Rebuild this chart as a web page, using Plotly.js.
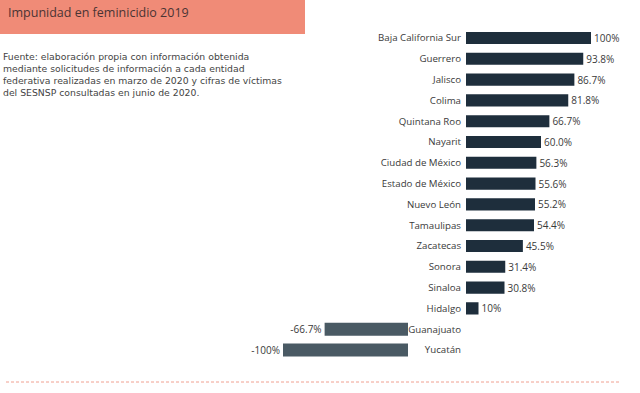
<!DOCTYPE html>
<html>
<head>
<meta charset="utf-8">
<script src="https://cdn.plot.ly/plotly-3.0.1.min.js"></script>
<style>html,body{margin:0;padding:0;background:#fff;}#chart{width:640px;height:393px;}</style>
</head>
<body>
<div id="chart"></div>
<script>
// Data
var allStates = ["Baja California Sur","Guerrero","Jalisco","Colima","Quintana Roo","Nayarit","Ciudad de México","Estado de México","Nuevo León","Tamaulipas","Zacatecas","Sonora","Sinaloa","Hidalgo","Guanajuato","Yucatán"];
var posStates = ["Baja California Sur","Guerrero","Jalisco","Colima","Quintana Roo","Nayarit","Ciudad de México","Estado de México","Nuevo León","Tamaulipas","Zacatecas","Sonora","Sinaloa","Hidalgo"];
var posValues = [100, 93.8, 86.7, 81.8, 66.7, 60.0, 56.3, 55.6, 55.2, 54.4, 45.5, 31.4, 30.8, 10];
var posLabels = ["100%","93.8%","86.7%","81.8%","66.7%","60.0%","56.3%","55.6%","55.2%","54.4%","45.5%","31.4%","30.8%","10%"];
var negStates = ["Guanajuato","Yucatán"];
var negValues = [-66.7, -100];
var negLabels = ["-66.7%","-100%"];
var subtitle = "Impunidad en feminicidio 2019";
var sourceLines = [
  "Fuente: elaboración propia con información obtenida",
  "mediante solicitudes de información a cada entidad",
  "federativa realizadas en marzo de 2020 y cifras de víctimas",
  "del SESNSP consultadas en junio de 2020."
];

var W = 640, H = 393;
function px(x){ return x / W; }
function py(y){ return 1 - y / H; }

var FONT = "Open Sans, Lato, sans-serif";

var traces = [
  {
    type: "bar", orientation: "h",
    x: posValues, y: posStates,
    text: posLabels, textposition: "outside", constraintext: "none",
    textfont: {family: FONT, size: 10, color: "#3a3a3a"},
    marker: {color: "#1e2e3c"},
    width: 0.58, cliponaxis: false,
    xaxis: "x", yaxis: "y", hoverinfo: "none"
  },
  {
    type: "bar", orientation: "h",
    x: negValues, y: negStates,
    text: negLabels, textposition: "outside", constraintext: "none",
    textfont: {family: FONT, size: 10, color: "#3a3a3a"},
    marker: {color: "#4a5a64"},
    width: 0.62, cliponaxis: false,
    xaxis: "x2", yaxis: "y", hoverinfo: "none"
  }
];

var annotations = [
  {xref: "paper", yref: "paper", x: px(6), y: py(12), xanchor: "left", yanchor: "middle",
   text: subtitle, showarrow: false,
   font: {family: FONT, size: 12.5, color: "#4a3434"}},
  {xref: "paper", yref: "paper", x: px(1), y: py(49), xanchor: "left", yanchor: "top", align: "left",
   text: sourceLines.join("<br>"), showarrow: false,
   font: {family: "DejaVu Sans, sans-serif", size: 9.3, color: "#444444"}}
];

var layout = {
  width: W, height: H,
  margin: {l: 0, r: 0, t: 0, b: 0},
  paper_bgcolor: "#ffffff", plot_bgcolor: "rgba(0,0,0,0)",
  showlegend: false,
  font: {family: FONT, color: "#3a3a3a"},
  xaxis: {
    domain: [px(466), px(591)], range: [0, 100], anchor: "y",
    showgrid: false, zeroline: false, showticklabels: false, showline: false, fixedrange: true
  },
  xaxis2: {
    domain: [px(283), px(408)], range: [-100, 0], anchor: "y",
    showgrid: false, zeroline: false, showticklabels: false, showline: false, fixedrange: true
  },
  yaxis: {
    domain: [py(360.4), py(27.6)],
    type: "category", categoryorder: "array", categoryarray: allStates,
    range: [15.5, -0.5], anchor: "x",
    showgrid: false, zeroline: false, showline: false,
    ticks: "", ticklabelstandoff: 4,
    tickfont: {family: FONT, size: 9.7, color: "#3a3a3a"}
  },
  shapes: [
    {type: "rect", xref: "paper", yref: "paper", x0: 0, x1: px(305), y0: py(34), y1: 1.01,
     fillcolor: "#f08b77", line: {width: 0}, layer: "below"},
    {type: "line", xref: "paper", yref: "paper", x0: px(6), x1: px(620), y0: py(382), y1: py(382),
     line: {color: "#f0a090", width: 1, dash: "3px,2px"}}
  ],
  annotations: annotations
};

Plotly.newPlot("chart", traces, layout, {displayModeBar: false, staticPlot: true});
</script>
</body>
</html>
